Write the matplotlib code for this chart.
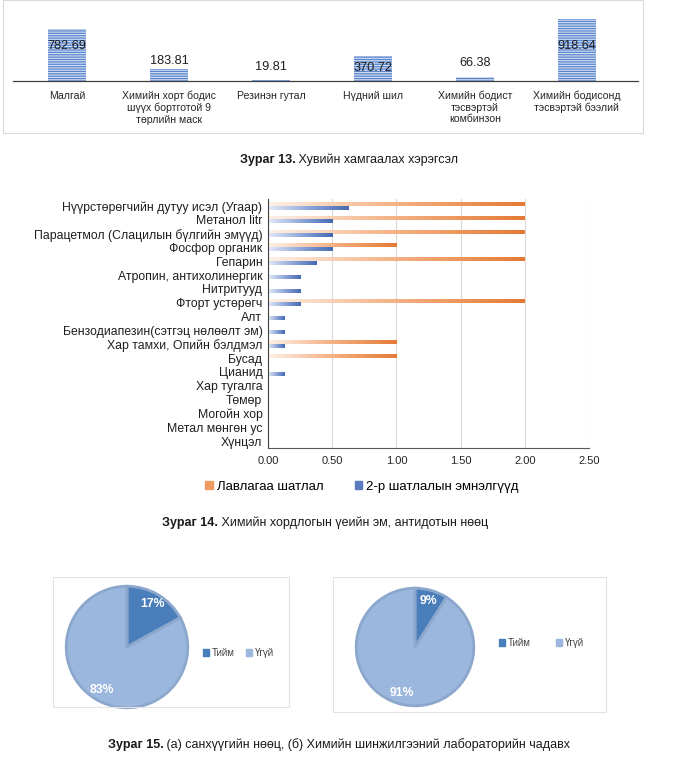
import matplotlib
matplotlib.use("Agg")
import matplotlib.pyplot as plt
import numpy as np
from matplotlib.patches import Rectangle, Patch
from matplotlib.colors import LinearSegmentedColormap

plt.rcParams['font.family'] = ['Liberation Sans', 'DejaVu Sans']
plt.rcParams['hatch.linewidth'] = 0.8

W, H = 682, 761

# figure 13 data
ppe_labels = ["Малгай", "Химийн хорт бодис\nшүүх бортготой 9\nтөрлийн маск", "Резинэн гутал",
              "Нүдний шил", "Химийн бодист\nтэсвэртэй\nкомбинзон", "Химийн бодисонд\nтэсвэртэй бээлий"]
ppe_vals = [782.69, 183.81, 19.81, 370.72, 66.38, 918.64]
ppe_label_y = [520, 295, 205, 190, 265, 520]

# figure 14 data
drug_labels = ["Нүүрстөрөгчийн дутуу исэл (Угаар)", "Метанол litr", "Парацетмол (Слацилын бүлгийн эмүүд)",
               "Фосфор органик", "Гепарин", "Атропин, антихолинергик", "Нитритууд", "Фторт устөрөгч",
               "Алт", "Бензодиапезин(сэтгэц нөлөөлт эм)", "Хар тамхи, Опийн бэлдмэл", "Бусад",
               "Цианид", "Хар тугалга", "Төмөр", "Могойн хор", "Метал мөнгөн ус", "Хүнцэл"]
ref_vals = [2, 2, 2, 1, 2, 0, 0, 2, 0, 0, 1, 1, 0, 0, 0, 0, 0, 0]
hosp_vals = [0.63, 0.5, 0.5, 0.5, 0.38, 0.25, 0.25, 0.25, 0.13, 0.13, 0.13, 0, 0.13, 0, 0, 0, 0, 0]
series_names = ["Лавлагаа шатлал", "2-р шатлалын эмнэлгүүд"]

# figure 15 data
pie_labels = ["Тийм", "Үгүй"]
finance = [17, 83]
lab = [9, 91]


def rect(l, t, r, b):
    return [l / W, 1 - b / H, (r - l) / W, (b - t) / H]


def fx(x):
    return x / W


def fy(y):
    return 1 - y / H


fig = plt.figure(figsize=(W / 100, H / 100), dpi=100)

# ---- figure 13: bar chart
ax1 = fig.add_axes(rect(13, 10, 638, 81))
x = np.arange(len(ppe_vals))
ax1.bar(x, ppe_vals, width=0.37, color='#5A86CF', edgecolor='#D5E0F2', linewidth=0, hatch='-------')
for i, (v, ly) in enumerate(zip(ppe_vals, ppe_label_y)):
    ax1.text(i, ly, f"{v:.2f}", ha='center', va='center', fontsize=9.2, color='#1f1f1f')
ax1.set_xlim(-0.53, 5.6)
ax1.set_ylim(0, 1060)
ax1.set_yticks([])
ax1.set_xticks(x, ppe_labels, fontsize=7.6, color='#262626')
ax1.tick_params(axis='x', length=0, pad=7)
for s in ['top', 'right', 'left']:
    ax1.spines[s].set_visible(False)
ax1.spines['bottom'].set_color('#404040')
ax1.spines['bottom'].set_linewidth(0.9)
ax1.patch.set_alpha(0)

fig.add_artist(Rectangle((fx(3), fy(133)), (643 - 3) / W, 133 / H, transform=fig.transFigure,
                         fill=False, edgecolor='#D9D9D9', linewidth=0.8))

# ---- figure 14: horizontal gradient bars
ax2 = fig.add_axes(rect(268, 199, 589, 448))
y = np.arange(len(drug_labels))
orange_cmap = LinearSegmentedColormap.from_list('o', ['#FDF1E8', '#F4B183', '#E47A35'])
blue_cmap = LinearSegmentedColormap.from_list('b', ['#E4EAF6', '#8FA8DA', '#4469B3'])
ob = ax2.barh(y - 0.13, ref_vals, height=0.26, color='#E47A35', linewidth=0)
bb = ax2.barh(y + 0.13, hosp_vals, height=0.26, color='#4469B3', linewidth=0)
grad = np.linspace(0, 1, 256).reshape(1, -1)
for bars, cm in [(ob, orange_cmap), (bb, blue_cmap)]:
    for p in bars:
        w = p.get_width()
        if w <= 0:
            continue
        ax2.imshow(grad, cmap=cm, aspect='auto', interpolation='bilinear',
                   extent=(p.get_x(), p.get_x() + w, p.get_y() + p.get_height(), p.get_y()), zorder=3)
ax2.set_xlim(0, 2.5)
ax2.set_ylim(len(drug_labels) - 0.5, -0.5)
ax2.set_aspect('auto')
ax2.set_xticks(np.arange(0, 2.51, 0.5), [f"{v:.2f}" for v in np.arange(0, 2.51, 0.5)], fontsize=8, color='#262626')
ax2.set_yticks(y, drug_labels, fontsize=8.8, color='#1f1f1f')
ax2.tick_params(length=0)
ax2.tick_params(axis='y', pad=4)
ax2.tick_params(axis='x', pad=6)
ax2.grid(axis='x', color='#D9D9D9', linewidth=0.8)
ax2.set_axisbelow(True)
ax2.spines['top'].set_visible(False)
ax2.spines['right'].set_visible(False)
ax2.spines['left'].set_color('#404040')
ax2.spines['bottom'].set_color('#595959')
ax2.spines['left'].set_zorder(5)
ax2.spines['bottom'].set_zorder(5)

fig.legend([Patch(color='#EE9A62'), Patch(color='#5A7BC0')], series_names, loc='center',
           bbox_to_anchor=(fx(362), fy(487)), ncol=2, frameon=False, fontsize=9.5,
           handlelength=0.55, handleheight=0.55, handletextpad=0.3, columnspacing=2.4)

# ---- figure 15: pies
dark = '#4A7EBB'
light = '#9BB7DD'
edge = '#8CA7CC'
pies = [(finance, (127, 647, 62), (198, 653), 1.2, (53, 577, 289, 707)),
        (lab, (415, 647, 60), (494, 643), 2.6, (333, 577, 606, 712))]
for vals, (cx, cy, r), (lx, ly), colsp, box in pies:
    ax = fig.add_axes(rect(cx - r, cy - r, cx + r, cy + r))
    wedges, _, autotexts = ax.pie(vals, colors=[dark, light], startangle=90, counterclock=False,
                                  autopct='%1.0f%%', pctdistance=0.82,
                                  wedgeprops=dict(edgecolor=edge, linewidth=2),
                                  textprops=dict(color='white', fontsize=8.8, fontweight='bold'))
    ax.set_xlim(-1.02, 1.02)
    ax.set_ylim(-1.02, 1.02)
    fig.legend([Patch(color=dark), Patch(color=light)], pie_labels, loc='center left',
               bbox_to_anchor=(fx(lx), fy(ly)), ncol=2, frameon=False, fontsize=7,
               handlelength=0.6, handleheight=0.6, handletextpad=0.3, columnspacing=colsp,
               labelcolor='#404040', borderpad=0)
    l, t, rr, b = box
    fig.add_artist(Rectangle((fx(l), fy(b)), (rr - l) / W, (b - t) / H, transform=fig.transFigure,
                             fill=False, edgecolor='#E3E3E3', linewidth=0.8))

# ---- captions
renderer = fig.canvas.get_renderer()


def caption(bold, rest, cx, cy):
    t1 = fig.text(0, fy(cy), bold, fontweight='bold', fontsize=9, va='center', color='#1a1a1a')
    t2 = fig.text(0, fy(cy), " " + rest, fontsize=9, va='center', color='#1a1a1a')
    w1 = t1.get_window_extent(renderer).width
    w2 = t2.get_window_extent(renderer).width
    x0 = cx - (w1 + w2) / 2
    t1.set_x(x0 / W)
    t2.set_x((x0 + w1) / W)


caption("Зураг 13.", "Хувийн хамгаалах хэрэгсэл", 349, 160)
caption("Зураг 14.", "Химийн хордлогын үеийн эм, антидотын нөөц", 325, 523)
caption("Зураг 15.", "(а) санхүүгийн нөөц, (б) Химийн шинжилгээний лабораторийн чадавх", 339, 745)

fig.savefig("out.png", dpi=100)
